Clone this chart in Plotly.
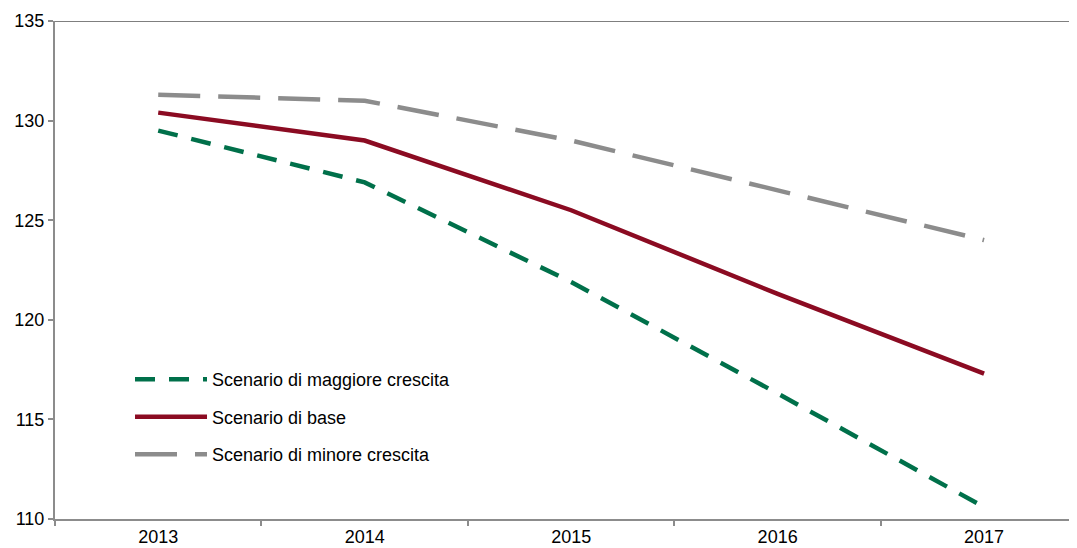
import plotly.graph_objects as go

years = ["2013", "2014", "2015", "2016", "2017"]
maggiore = [129.5, 126.9, 121.9, 116.3, 110.6]
base = [130.4, 129.0, 125.5, 121.3, 117.3]
minore = [131.3, 131.0, 129.0, 126.5, 124.0]

names = ["Scenario di maggiore crescita", "Scenario di base", "Scenario di minore crescita"]

fig = go.Figure()
fig.add_trace(go.Scatter(x=years, y=maggiore, mode="lines", name=names[0], legendgroup="a",
                         line=dict(color="#00704A", width=4.5, dash="20px,14px")))
fig.add_trace(go.Scatter(x=years, y=base, mode="lines", name=names[1], legendgroup="b",
                         line=dict(color="#8B0B22", width=4.5)))
fig.add_trace(go.Scatter(x=years, y=minore, mode="lines", name=names[2], legendgroup="c",
                         line=dict(color="#8C8C8C", width=4.5, dash="42px,18px")))

fig.update_layout(
    width=1069, height=540,
    margin=dict(l=47, r=0, t=13, b=29),
    paper_bgcolor="white", plot_bgcolor="white",
    font=dict(family="Liberation Sans, Arial", size=18, color="#000000"),
    showlegend=True,
    legend=dict(x=0.0734, y=0.317, xanchor="left", yanchor="top", bgcolor="rgba(0,0,0,0)",
                itemwidth=72, tracegroupgap=11, font=dict(size=18), traceorder="grouped"),
    xaxis=dict(type="category", range=[-0.5, 4.45], showgrid=False, showline=True,
               linecolor="#8C8C8C", linewidth=2, ticks="outside", tickson="boundaries",
               ticklen=5, tickcolor="#8C8C8C", tickwidth=1.5, zeroline=False,
               tickfont=dict(size=18)),
    yaxis=dict(range=[110, 135], tickvals=[110, 115, 120, 125, 130, 135], showgrid=False,
               showline=True, linecolor="#8C8C8C", linewidth=2, ticks="outside",
               ticklen=5, tickcolor="#8C8C8C", tickwidth=1.5, zeroline=False,
               tickfont=dict(size=18)),
)
fig.add_shape(type="line", xref="paper", yref="y", x0=0, x1=1, y0=135, y1=135,
              line=dict(color="black", width=1))

fig.write_html("out.html")
